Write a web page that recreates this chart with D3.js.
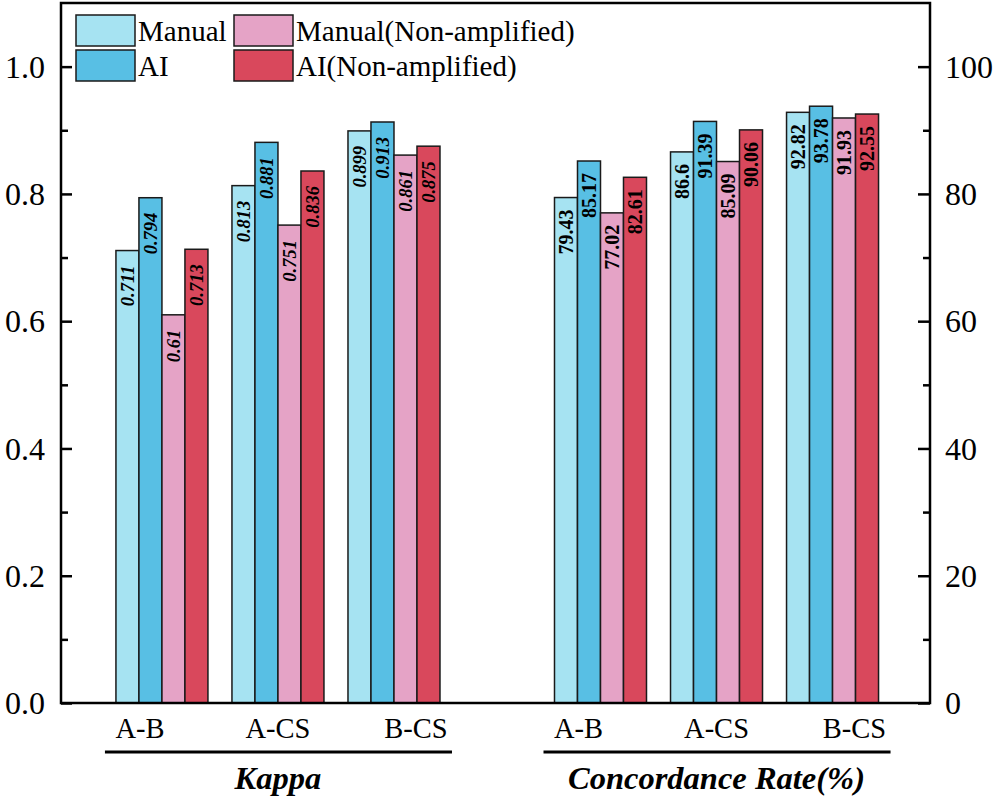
<!DOCTYPE html>
<html>
<head>
<meta charset="utf-8">
<script src="https://d3js.org/d3.v7.min.js"></script>
<style>
  body { margin: 0; background: #fff; }
  text { font-family: "Liberation Serif", "Times New Roman", serif; }
</style>
</head>
<body>
<svg id="vis"></svg>
<script>
  var W = 1000, H = 799

  // data
  var pairs = ['A-B', 'A-CS', 'B-CS']
  var series = ['Manual', 'AI', 'Manual(Non-amplified)', 'AI(Non-amplified)']
  var colors = ['#a6e3f2', '#58bfe4', '#e5a3c6', '#d9485c']
  var kappa = [
    [0.711, 0.794, 0.61, 0.713],
    [0.813, 0.881, 0.751, 0.836],
    [0.899, 0.913, 0.861, 0.875]
  ]
  var concordance = [
    [79.43, 85.17, 77.02, 82.61],
    [86.6, 91.39, 85.09, 90.06],
    [92.82, 93.78, 91.93, 92.55]
  ]
  var leftTicks = [0, 0.2, 0.4, 0.6, 0.8, 1.0]
  var rightTicks = [0, 20, 40, 60, 80, 100]
  var panels = ['Kappa', 'Concordance Rate(%)']

  var plotL = 61, plotR = 930, plotT = 3, plotB = 703

  var svg = d3.select('#vis').attr('width', W).attr('height', H)

  // group position scale (units of one group spacing)
  var x = d3.scaleLinear().domain([0.13, 7.62]).range([plotL, plotR])
  var panelStart = [1, 4.78]
  var sub = d3.scaleBand().domain(series).range([-46, 46])

  var yL = d3.scaleLinear().domain([0, 1.1]).range([plotB, plotT])
  var yR = d3.scaleLinear().domain([0, 110]).range([plotB, plotT])

  // label styles per panel
  var labelStyle = [
    { size: 18.5, italic: true, pad: 15 },
    { size: 20, italic: false, pad: 12 }
  ]

  function drawPanel(p, values, yScale) {
    var g = svg.append('g')
    var st = labelStyle[p]
    pairs.forEach(function (pair, i) {
      var cx = x(panelStart[p] + i)
      g.selectAll(null)
        .data(values[i])
        .enter().append('rect')
        .attr('x', function (d, j) { return cx + sub(series[j]) })
        .attr('y', function (d) { return yScale(d) })
        .attr('width', sub.bandwidth())
        .attr('height', function (d) { return plotB - yScale(d) })
        .attr('fill', function (d, j) { return colors[j] })
        .attr('stroke', '#1a1a1a')
        .attr('stroke-width', 1.5)

      g.selectAll(null)
        .data(values[i])
        .enter().append('text')
        .attr('transform', function (d, j) {
          return 'translate(' + (cx + sub(series[j]) + sub.bandwidth() / 2) + ',' + (yScale(d) + st.pad) + ') rotate(-90)'
        })
        .attr('text-anchor', 'end')
        .attr('dy', '0.35em')
        .style('font-size', st.size + 'px')
        .style('font-weight', 'bold')
        .style('font-style', st.italic ? 'italic' : 'normal')
        .text(function (d) { return d })
    })

    // category labels, spread evenly under the panel
    var mid = x(panelStart[p] + 1)
    g.selectAll(null)
      .data(pairs)
      .enter().append('text')
      .attr('x', function (d, i) { return mid + (i - 1) * 138 })
      .attr('y', 738)
      .attr('text-anchor', 'middle')
      .style('font-size', '28.5px')
      .text(function (d) { return d })

    g.append('line')
      .attr('x1', x(panelStart[p]) - 57)
      .attr('x2', x(panelStart[p] + 2) + 58)
      .attr('y1', 752).attr('y2', 752)
      .attr('stroke', '#000').attr('stroke-width', 3)

    g.append('text')
      .attr('x', mid)
      .attr('y', 789)
      .attr('text-anchor', 'middle')
      .style('font-size', '32.5px')
      .style('font-weight', 'bold')
      .style('font-style', 'italic')
      .text(panels[p])
  }

  drawPanel(0, kappa, yL)
  drawPanel(1, concordance, yR)

  // frame
  svg.append('rect')
    .attr('x', plotL).attr('y', plotT)
    .attr('width', plotR - plotL).attr('height', plotB - plotT)
    .attr('fill', 'none').attr('stroke', '#000').attr('stroke-width', 2.5)

  // left axis, ticks inward
  var axL = svg.append('g').attr('transform', 'translate(' + plotL + ',0)')
    .call(d3.axisRight(yL).tickValues(d3.range(0, 1.05, 0.1)).tickSize(7).tickFormat(''))
  axL.select('.domain').remove()
  axL.selectAll('line').attr('stroke-width', 2.5)
    .attr('x2', function (d) { return Math.round(d * 10) % 2 === 0 ? 11 : 7 })
  svg.selectAll('.ltick')
    .data(leftTicks)
    .enter().append('text')
    .attr('x', 45).attr('y', function (d) { return yL(d) })
    .attr('dy', '0.35em')
    .attr('text-anchor', 'end')
    .style('font-size', '32px')
    .text(d3.format('.1f'))

  // right axis, ticks inward
  var axR = svg.append('g').attr('transform', 'translate(' + plotR + ',0)')
    .call(d3.axisLeft(yR).tickValues(d3.range(0, 105, 10)).tickSize(7).tickFormat(''))
  axR.select('.domain').remove()
  axR.selectAll('line').attr('stroke-width', 2.5)
    .attr('x2', function (d) { return Math.round(d) % 20 === 0 ? -12 : -7 })
  svg.selectAll('.rtick')
    .data(rightTicks)
    .enter().append('text')
    .attr('x', 945).attr('y', function (d) { return yR(d) })
    .attr('dy', '0.35em')
    .style('font-size', '32px')
    .text(function (d) { return d })

  // legend
  var legPos = [[76, 15], [76, 50], [234, 15], [234, 50]]
  var leg = svg.selectAll('.leg')
    .data(series)
    .enter().append('g')
    .attr('transform', function (d, i) { return 'translate(' + legPos[i][0] + ',' + legPos[i][1] + ')' })
  leg.append('rect')
    .attr('width', 59).attr('height', 31)
    .attr('fill', function (d, i) { return colors[i] })
    .attr('stroke', '#1a1a1a').attr('stroke-width', 1.5)
  leg.append('text')
    .attr('x', 62).attr('y', 16)
    .attr('dy', '0.35em')
    .style('font-size', '29px')
    .text(function (d) { return d })
</script>
</body>
</html>
